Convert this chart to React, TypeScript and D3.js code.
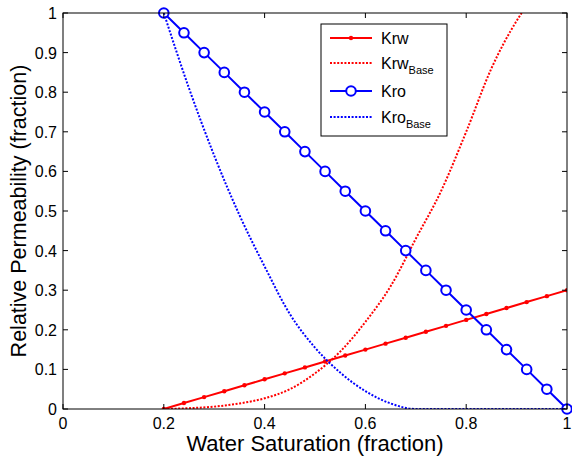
import React from "react";
import * as d3 from "d3";

// Water saturation samples for the measured curves
const swPoints = [0.2, 0.24, 0.28, 0.32, 0.36, 0.4, 0.44, 0.48, 0.52, 0.56, 0.6, 0.64, 0.68, 0.72, 0.76, 0.8, 0.84, 0.88, 0.92, 0.96, 1.0];
const krw = [0, 0.015, 0.03, 0.045, 0.06, 0.075, 0.09, 0.105, 0.12, 0.135, 0.15, 0.165, 0.18, 0.195, 0.21, 0.225, 0.24, 0.255, 0.27, 0.285, 0.3];
const kro = [1, 0.95, 0.9, 0.85, 0.8, 0.75, 0.7, 0.65, 0.6, 0.55, 0.5, 0.45, 0.4, 0.35, 0.3, 0.25, 0.2, 0.15, 0.1, 0.05, 0];

// Base-case curves
const swKrwBase = [0.2, 0.25, 0.3, 0.35, 0.4, 0.45, 0.5, 0.55, 0.6, 0.65, 0.7, 0.75, 0.8, 0.85, 0.9, 0.91];
const krwBase = [0, 0.002, 0.006, 0.014, 0.027, 0.05, 0.09, 0.145, 0.22, 0.31, 0.43, 0.55, 0.7, 0.86, 0.98, 1.0];
const swKroBase = [0.2, 0.25, 0.3, 0.35, 0.4, 0.45, 0.5, 0.55, 0.6, 0.65, 0.7, 0.75, 0.8, 0.85, 0.9, 0.95, 1.0];
const kroBase = [1, 0.81, 0.64, 0.49, 0.36, 0.24, 0.155, 0.092, 0.045, 0.014, 0, 0, 0, 0, 0, 0, 0];

const xTicks = [0, 0.2, 0.4, 0.6, 0.8, 1];
const yTicks = [0, 0.1, 0.2, 0.3, 0.4, 0.5, 0.6, 0.7, 0.8, 0.9, 1];

const W = 572;
const H = 458;
const M = { left: 63, right: 5, top: 13, bottom: 49 };
const FONT = "'Liberation Sans', Arial, Helvetica, sans-serif";
const RED = "#ff0000";
const BLUE = "#0000ff";
const DOT = "2,1.6";

export default function App() {
  const x = d3.scaleLinear().domain([0, 1]).range([M.left, W - M.right]);
  const y = d3.scaleLinear().domain([0, 1]).range([H - M.bottom, M.top]);

  const straight = d3
    .line<[number, number]>()
    .x((d) => x(d[0]))
    .y((d) => y(d[1]));
  const smooth = d3
    .line<[number, number]>()
    .x((d) => x(d[0]))
    .y((d) => y(d[1]))
    .curve(d3.curveMonotoneX);

  const krwPts = swPoints.map((s, i) => [s, krw[i]] as [number, number]);
  const kroPts = swPoints.map((s, i) => [s, kro[i]] as [number, number]);
  const krwBasePts = swKrwBase.map((s, i) => [s, krwBase[i]] as [number, number]);
  const kroBasePts = swKroBase.map((s, i) => [s, kroBase[i]] as [number, number]);

  const x0 = x(0), x1 = x(1), y0 = y(0), y1 = y(1);
  const tick = 5;

  // legend
  const lg = { x: 321, y: 24, w: 126, h: 112 };
  const rows = [
    { name: "Krw", sub: "", color: RED, dash: null, marker: "dot", cy: 38 },
    { name: "Krw", sub: "Base", color: RED, dash: DOT, marker: null, cy: 63 },
    { name: "Kro", sub: "", color: BLUE, dash: null, marker: "circle", cy: 91 },
    { name: "Kro", sub: "Base", color: BLUE, dash: DOT, marker: null, cy: 117 },
  ];

  return (
    <svg
      width={W}
      height={H}
      style={{ position: "absolute", left: 0, top: 0, background: "#fff" }}
      fontFamily={FONT}
    >
      <defs>
        <clipPath id="plotClip">
          <rect x={x0} y={y1} width={x1 - x0} height={y0 - y1} />
        </clipPath>
      </defs>
      <rect x={0} y={0} width={W} height={H} fill="#fff" />

      <g clipPath="url(#plotClip)">
        <path d={straight(krwPts) ?? ""} fill="none" stroke={RED} strokeWidth={2} />
        {krwPts.map((p, i) => (
          <circle key={"kw" + i} cx={x(p[0])} cy={y(p[1])} r={2.2} fill={RED} />
        ))}
        <path d={smooth(krwBasePts) ?? ""} fill="none" stroke={RED} strokeWidth={2} strokeDasharray={DOT} />
      </g>
      <path d={straight(kroPts) ?? ""} fill="none" stroke={BLUE} strokeWidth={2} />
      {kroPts.map((p, i) => (
        <circle key={"ko" + i} cx={x(p[0])} cy={y(p[1])} r={4.8} fill="#fff" stroke={BLUE} strokeWidth={2} />
      ))}
      <g clipPath="url(#plotClip)">
        <path d={smooth(kroBasePts) ?? ""} fill="none" stroke={BLUE} strokeWidth={2} strokeDasharray={DOT} />
      </g>

      {/* axes box with inward ticks */}
      <rect x={x0} y={y1} width={x1 - x0} height={y0 - y1} fill="none" stroke="#000" strokeWidth={1} />
      {xTicks.map((t) => (
        <g key={"xt" + t}>
          <line x1={x(t)} x2={x(t)} y1={y0} y2={y0 - tick} stroke="#000" />
          <line x1={x(t)} x2={x(t)} y1={y1} y2={y1 + tick} stroke="#000" />
          <text x={x(t)} y={y0 + 20} fontSize={16} textAnchor="middle">
            {String(t)}
          </text>
        </g>
      ))}
      {yTicks.map((t) => (
        <g key={"yt" + t}>
          <line x1={x0} x2={x0 + tick} y1={y(t)} y2={y(t)} stroke="#000" />
          <line x1={x1} x2={x1 - tick} y1={y(t)} y2={y(t)} stroke="#000" />
          <text x={x0 - 6} y={y(t) + 6} fontSize={16} textAnchor="end">
            {String(t)}
          </text>
        </g>
      ))}

      <text x={(x0 + x1) / 2} y={451} fontSize={22} textAnchor="middle">
        Water Saturation (fraction)
      </text>
      <text
        transform={`translate(26, ${(y0 + y1) / 2}) rotate(-90)`}
        fontSize={21.5}
        textAnchor="middle"
      >
        Relative Permeability (fraction)
      </text>

      {/* legend */}
      <rect x={lg.x} y={lg.y} width={lg.w} height={lg.h} fill="#fff" stroke="#000" strokeWidth={1} />
      {rows.map((r, i) => (
        <g key={"lg" + i}>
          <line
            x1={330}
            x2={372}
            y1={r.cy}
            y2={r.cy}
            stroke={r.color}
            strokeWidth={2}
            strokeDasharray={r.dash ?? undefined}
          />
          {r.marker === "dot" && <circle cx={351} cy={r.cy} r={2.2} fill={r.color} />}
          {r.marker === "circle" && (
            <circle cx={351} cy={r.cy} r={4.8} fill="#fff" stroke={r.color} strokeWidth={2} />
          )}
          <text x={381} y={r.cy + 6} fontSize={16}>
            {r.name}
            {r.sub && (
              <tspan fontSize={11} dy={5}>
                {r.sub}
              </tspan>
            )}
          </text>
        </g>
      ))}
    </svg>
  );
}
